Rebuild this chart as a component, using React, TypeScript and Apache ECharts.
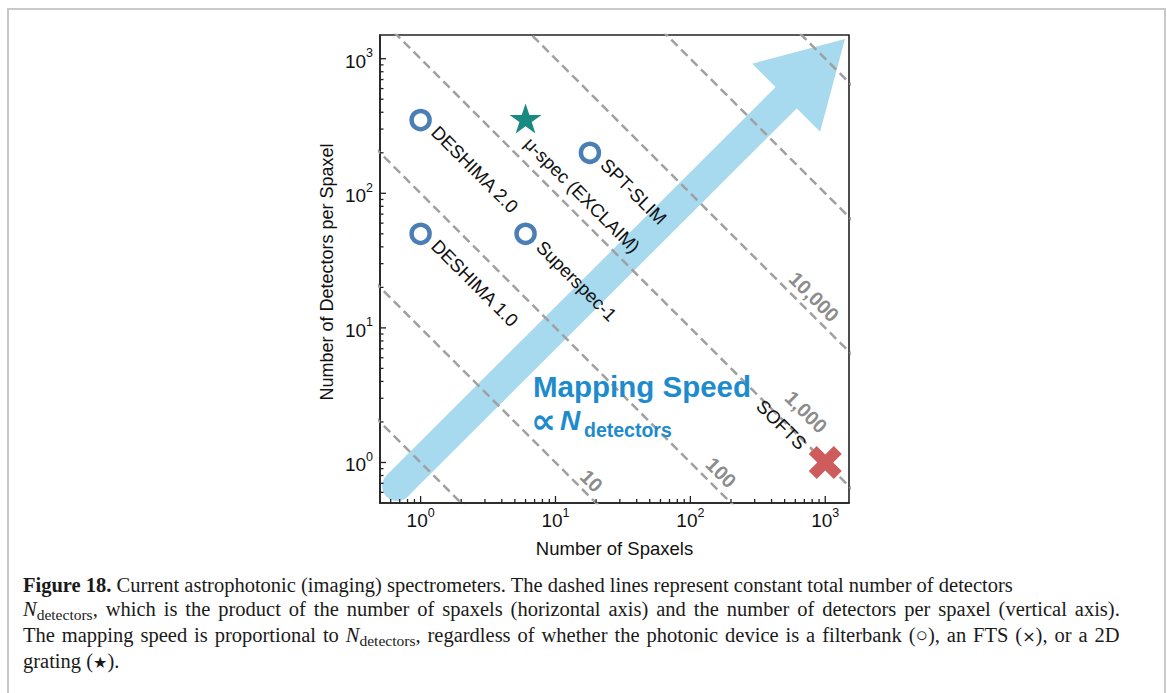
import React, { useEffect, useRef } from "react";
import * as echarts from "echarts";

// ---------- data ----------
const AXIS_MIN = 0.5;
const AXIS_MAX = 1500;

// constant total-detector lines  (N = spaxels × detectors per spaxel)
const productLevels = [1, 10, 100, 1000, 10000, 100000, 1000000];
const lineSpanX = [0.05, 20000];

const productLabelTexts = ["10", "100", "1,000", "10,000"];
const productLabelX = [18.5, 169, 721, 826];
const productLabelY = [0.73, 0.84, 2.37, 17];

// filterbank spectrometers (○)
const filterbankNames = ["DESHIMA 2.0", "DESHIMA 1.0", "Superspec-1", "SPT-SLIM"];
const filterbankSpaxels = [1, 1, 6, 18];
const filterbankDetectors = [350, 50, 50, 200];

// 2D grating (★)
const gratingNames = ["μ-spec (EXCLAIM)"];
const gratingSpaxels = [6];
const gratingDetectors = [360];

// FTS (×)
const ftsNames = ["SOFTS"];
const ftsSpaxels = [1000];
const ftsDetectors = [1];

// axis ticks
const majorTicks = [1, 10, 100, 1000];
const majorTickExponents = ["0", "1", "2", "3"];
const minorTicks = [
  0.6, 0.7, 0.8, 0.9, 2, 3, 4, 5, 6, 7, 8, 9, 20, 30, 40, 50, 60, 70, 80, 90,
  200, 300, 400, 500, 600, 700, 800, 900,
];

// big arrow (data space)
const arrowTail = [0.67, 0.67];
const arrowTip = [1400, 1400];

// ---------- styles ----------
const FONT = '"Liberation Sans", Arial, Helvetica, sans-serif';
const labelOffsets: Record<string, { dx: number; dy: number; align: string }> = {
  "DESHIMA 2.0": { dx: 14, dy: 9, align: "left" },
  "DESHIMA 1.0": { dx: 14, dy: 9, align: "left" },
  "Superspec-1": { dx: 14, dy: 10, align: "left" },
  "SPT-SLIM": { dx: 14, dy: 9, align: "left" },
  "μ-spec (EXCLAIM)": { dx: 2, dy: 22, align: "left" },
  SOFTS: { dx: -22, dy: -16, align: "right" },
};

const STAR =
  "path://M50,0 L61.8,35.1 L99,35.1 L68.9,56.7 L80.2,91.9 L50,70 L19.8,91.9 L31.1,56.7 L1,35.1 L38.2,35.1 Z";
const CROSS =
  "path://M0,24 L24,0 L50,26 L76,0 L100,24 L74,50 L100,76 L76,100 L50,74 L24,100 L0,76 L26,50 Z";

function tickFormatter(v: number) {
  const i = majorTicks.findIndex((t) => Math.abs(t - v) / t < 1e-6);
  if (i < 0) return "";
  return `{b|10}{s|${majorTickExponents[i]}}`;
}

function labelSeries(names: string[], xs: number[], ys: number[]) {
  return {
    type: "custom",
    z: 6,
    silent: true,
    clip: false,
    data: names.map((_, i) => [xs[i], ys[i]]),
    renderItem: (params: any, api: any) => {
      const name = names[params.dataIndex];
      const o = labelOffsets[name];
      const p = api.coord([api.value(0), api.value(1)]);
      return {
        type: "text",
        x: p[0] + o.dx,
        y: p[1] + o.dy,
        rotation: -Math.PI / 4,
        style: {
          text: name,
          fontFamily: FONT,
          fontSize: 18.5,
          fill: "#111",
          align: o.align,
          verticalAlign: "middle",
        },
      };
    },
  };
}

export default function App() {
  const ref = useRef<HTMLDivElement>(null);

  useEffect(() => {
    if (!ref.current) return;
    const chart = echarts.init(ref.current, undefined, { renderer: "svg" });

    const axisCommon = {
      type: "log",
      logBase: 10,
      min: AXIS_MIN,
      max: AXIS_MAX,
      axisLine: { show: true, lineStyle: { color: "#222", width: 1.6 } },
      axisTick: { show: false },
      splitLine: { show: false },
      minorTick: { show: false },
    };
    const rich = {
      b: { fontFamily: FONT, fontSize: 19, color: "#111", verticalAlign: "bottom", lineHeight: 24 },
      s: { fontFamily: FONT, fontSize: 12.5, color: "#111", verticalAlign: "top", lineHeight: 24 },
    };

    const tickItems: number[][] = [];
    majorTicks.forEach((v) => tickItems.push([v, 0, 7]));
    minorTicks.forEach((v) => tickItems.push([v, 0, 4]));
    majorTicks.forEach((v) => tickItems.push([v, 1, 6]));
    minorTicks.forEach((v) => tickItems.push([v, 1, 3.5]));

    const option: any = {
      animation: false,
      textStyle: { fontFamily: FONT },
      grid: {
        left: 380,
        top: 35,
        width: 469,
        height: 468,
        show: true,
        borderColor: "#222",
        borderWidth: 1.6,
        backgroundColor: "transparent",
      },
      xAxis: {
        ...axisCommon,
        axisLabel: { formatter: tickFormatter, rich, margin: 3, showMinLabel: false, showMaxLabel: false },
      },
      yAxis: {
        ...axisCommon,
        axisLabel: { formatter: tickFormatter, rich, margin: 7, showMinLabel: false, showMaxLabel: false },
      },
      series: [
        // big arrow
        {
          type: "custom",
          z: 1,
          silent: true,
          clip: true,
          data: [[arrowTail[0], arrowTail[1], arrowTip[0], arrowTip[1]]],
          renderItem: (_p: any, api: any) => {
            const t = api.coord([api.value(0), api.value(1)]);
            const h = api.coord([api.value(2), api.value(3)]);
            const dx = h[0] - t[0];
            const dy = h[1] - t[1];
            const L = Math.hypot(dx, dy);
            const ux = dx / L, uy = dy / L;
            const nx = -uy, ny = ux;
            const sh = 15, hh = 48, hl = 83;
            const bx = h[0] - ux * hl, by = h[1] - uy * hl;
            const ex = bx + ux * 3, ey = by + uy * 3;
            const fill = "#a7d9ef";
            return {
              type: "group",
              children: [
                {
                  type: "polygon",
                  shape: {
                    points: [
                      [t[0] + nx * sh, t[1] + ny * sh],
                      [ex + nx * sh, ey + ny * sh],
                      [ex - nx * sh, ey - ny * sh],
                      [t[0] - nx * sh, t[1] - ny * sh],
                    ],
                  },
                  style: { fill },
                },
                { type: "circle", shape: { cx: t[0], cy: t[1], r: sh }, style: { fill } },
                {
                  type: "polygon",
                  shape: {
                    points: [
                      [bx + nx * hh, by + ny * hh],
                      [h[0], h[1]],
                      [bx - nx * hh, by - ny * hh],
                    ],
                  },
                  style: { fill },
                },
              ],
            };
          },
        },
        // iso-detector dashed lines
        ...productLevels.map((n) => ({
          type: "line",
          z: 2,
          silent: true,
          symbol: "none",
          clip: true,
          data: lineSpanX.map((x) => [x, n / x]),
          lineStyle: { color: "#a0a0a0", width: 2.5, type: [9, 5] },
        })),
        // labels of the dashed lines
        {
          type: "custom",
          z: 3,
          silent: true,
          clip: false,
          data: productLabelTexts.map((_, i) => [productLabelX[i], productLabelY[i]]),
          renderItem: (params: any, api: any) => {
            const p = api.coord([api.value(0), api.value(1)]);
            return {
              type: "text",
              x: p[0],
              y: p[1],
              rotation: -Math.PI / 4,
              style: {
                text: productLabelTexts[params.dataIndex],
                fontFamily: FONT,
                fontSize: 20,
                fontWeight: "bold",
                fill: "#8c8c8c",
                align: "center",
                verticalAlign: "middle",
              },
            };
          },
        },
        // markers
        {
          type: "scatter",
          z: 5,
          name: "filterbank",
          symbol: "circle",
          symbolSize: 18,
          itemStyle: { color: "#ffffff", borderColor: "#4a7eb4", borderWidth: 4.5, opacity: 1 },
          data: filterbankSpaxels.map((x, i) => [x, filterbankDetectors[i]]),
        },
        {
          type: "scatter",
          z: 5,
          name: "grating",
          symbol: STAR,
          symbolSize: 32,
          symbolKeepAspect: true,
          itemStyle: { color: "#188a80", opacity: 1 },
          data: gratingSpaxels.map((x, i) => [x, gratingDetectors[i]]),
        },
        {
          type: "scatter",
          z: 5,
          name: "FTS",
          symbol: CROSS,
          symbolSize: 33,
          itemStyle: { color: "#cf5c5c", opacity: 1 },
          data: ftsSpaxels.map((x, i) => [x, ftsDetectors[i]]),
        },
        labelSeries(filterbankNames, filterbankSpaxels, filterbankDetectors),
        labelSeries(gratingNames, gratingSpaxels, gratingDetectors),
        labelSeries(ftsNames, ftsSpaxels, ftsDetectors),
        // axis ticks (inward, major + minor)
        {
          type: "custom",
          z: 7,
          silent: true,
          clip: false,
          data: tickItems,
          renderItem: (_p: any, api: any) => {
            const v = api.value(0);
            const axis = api.value(1);
            const len = api.value(2);
            if (axis === 0) {
              const p = api.coord([v, AXIS_MIN]);
              return {
                type: "line",
                shape: { x1: p[0], y1: p[1], x2: p[0], y2: p[1] - len },
                style: { stroke: "#222", lineWidth: 1.3 },
              };
            }
            const p = api.coord([AXIS_MIN, v]);
            return {
              type: "line",
              shape: { x1: p[0], y1: p[1], x2: p[0] + len, y2: p[1] },
              style: { stroke: "#222", lineWidth: 1.3 },
            };
          },
        },
      ],
      graphic: [
        {
          type: "text",
          x: 614.5,
          y: 548,
          style: {
            text: "Number of Spaxels",
            fontFamily: FONT,
            fontSize: 18.5,
            fill: "#111",
            align: "center",
            verticalAlign: "middle",
          },
        },
        {
          type: "text",
          x: 327,
          y: 272,
          rotation: Math.PI / 2,
          style: {
            text: "Number of Detectors per Spaxel",
            fontFamily: FONT,
            fontSize: 18,
            fill: "#111",
            align: "center",
            verticalAlign: "middle",
          },
        },
        {
          type: "text",
          x: 533,
          y: 386,
          z: 20,
          style: {
            text: "Mapping Speed",
            fontFamily: FONT,
            fontSize: 29.5,
            fontWeight: "bold",
            fill: "#1e8bcd",
            align: "left",
            verticalAlign: "middle",
          },
        },
        {
          type: "text",
          x: 531,
          y: 421,
          z: 20,
          style: {
            text: "∝",
            fontFamily: '"DejaVu Sans", sans-serif',
            fontSize: 35,
            fontWeight: "bold",
            fill: "#1e8bcd",
            align: "left",
            verticalAlign: "middle",
          },
        },
        {
          type: "text",
          x: 560,
          y: 420,
          z: 20,
          style: {
            text: "N",
            fontFamily: FONT,
            fontSize: 28,
            fontWeight: "bold",
            fontStyle: "italic",
            fill: "#1e8bcd",
            align: "left",
            verticalAlign: "middle",
          },
        },
        {
          type: "text",
          x: 584,
          y: 430,
          z: 20,
          style: {
            text: "detectors",
            fontFamily: FONT,
            fontSize: 19.5,
            fontWeight: "bold",
            fill: "#1e8bcd",
            align: "left",
            verticalAlign: "middle",
          },
        },
      ],
    };

    chart.setOption(option);
    return () => chart.dispose();
  }, []);

  const sub: React.CSSProperties = { fontSize: 15.5, position: "relative", top: 4 };
  const sym: React.CSSProperties = { fontFamily: '"DejaVu Sans"', fontSize: 16 };

  return (
    <div
      style={{
        position: "absolute",
        left: 0,
        top: 0,
        width: 1167,
        height: 693,
        overflow: "hidden",
        background: "#fff",
      }}
    >
      <div
        style={{
          position: "absolute",
          left: 7,
          top: 8,
          width: 1155,
          height: 700,
          borderTop: "2px solid #c9c9c9",
          borderLeft: "2px solid #c9c9c9",
          borderRight: "2px solid #c9c9c9",
        }}
      />
      <div ref={ref} style={{ position: "absolute", left: 0, top: 0, width: 1167, height: 693 }} />
      <div
        style={{
          position: "absolute",
          left: 23,
          top: 573,
          fontFamily: '"Liberation Serif", "Times New Roman", serif',
          fontSize: 20.5,
          lineHeight: "24px",
          color: "#1a1a1a",
          whiteSpace: "nowrap",
        }}
      >
        <div>
          <b>Figure 18.</b> Current astrophotonic (imaging) spectrometers. The dashed lines represent
          constant total number of detectors
        </div>
        <div style={{ wordSpacing: 2.8 }}>
          <i>N</i>
          <span style={sub}>detectors</span>, which is the product of the number of spaxels (horizontal
          axis) and the number of detectors per spaxel (vertical axis).
        </div>
        <div style={{ wordSpacing: 1.8 }}>
          The mapping speed is proportional to <i>N</i>
          <span style={sub}>detectors</span>, regardless of whether the photonic device is a filterbank
          (○), an FTS (<span style={sym}>×</span>), or a 2D
        </div>
        <div>
          grating (<span style={sym}>★</span>).
        </div>
      </div>
    </div>
  );
}
